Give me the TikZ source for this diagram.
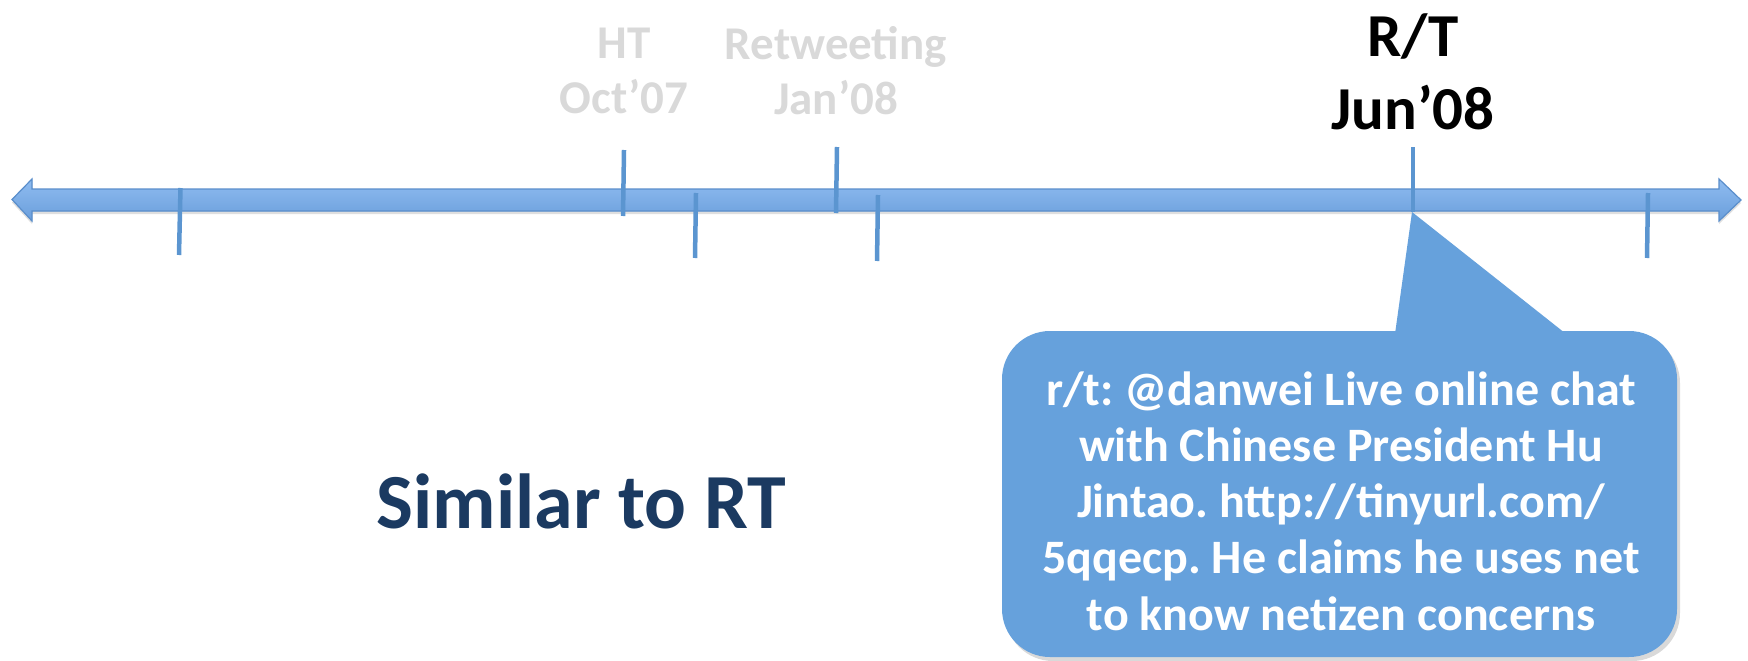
\documentclass[tikz,border=0pt]{standalone}
\usepackage{fontspec}
\setmainfont{Carlito}
\usetikzlibrary{shadows}
\frenchspacing
\definecolor{arrowtop}{HTML}{8FBCF0}
\definecolor{arrowbot}{HTML}{6A9EDB}
\definecolor{arrowline}{HTML}{5A8ECB}
\definecolor{tickblue}{HTML}{5B95D0}
\definecolor{callfill}{HTML}{66A1DC}
\definecolor{lightlabel}{HTML}{D9D9D9}
\definecolor{navy}{HTML}{1B3A61}
\begin{document}
\begin{tikzpicture}[x=1pt,y=-1pt,
  tickmark/.style={draw=tickblue,line width=4.5pt},
  oldlabel/.style={text=lightlabel,font=\bfseries\fontsize{47}{55}\selectfont,align=center,inner sep=0pt},
  nowlabel/.style={text=black,font=\bfseries\fontsize{61}{73}\selectfont,align=center,inner sep=0pt},
  calltext/.style={text=white,font=\bfseries\fontsize{48}{56.3}\selectfont,align=center,inner sep=0pt},
  bigtitle/.style={text=navy,font=\bfseries\fontsize{78}{90}\selectfont,inner sep=0pt}]
\useasboundingbox (0,0) rectangle (1748,661);
% timeline arrow
\path[fill=arrowbot,draw=arrowline,line width=1.2pt,top color=arrowtop,bottom color=arrowbot,
  drop shadow={opacity=0.25,shadow xshift=0pt,shadow yshift=-3pt}]
  (12,199.5) -- (32,179) -- (32,189) -- (1719,189) -- (1719,179) -- (1741,200)
  -- (1719,221) -- (1719,211) -- (32,211) -- (32,221) -- cycle;
% ticks
\draw[tickmark] (180.5,188) -- (179,255);
\draw[tickmark] (624,150) -- (623,216);
\draw[tickmark] (696,193) -- (695,258);
\draw[tickmark] (837,147) -- (836,213);
\draw[tickmark] (878,195) -- (877,261);
\draw[tickmark] (1413,147) -- (1413,212);
\draw[tickmark] (1648,193) -- (1647,258);
% labels
\node[oldlabel] (ht) at (624,70.5) {HT\\Oct’07};
\node[oldlabel] (rtw) at (836,70.5) {Retweeting\\Jan’08};
\node[nowlabel] (rt) at (1413,72) {R/T\\Jun’08};
% callout
\fill[callfill,rounded corners=48pt,drop shadow={opacity=0.3,shadow xshift=3pt,shadow yshift=-4pt}]
  (1002,331) rectangle (1677,657);
\coordinate (tip) at (1412,212);
\fill[callfill] (tip) -- (1575,341) -- (1394,341) -- cycle;
\node[calltext] (tweet) at (1341,501) {r/t: @danwei Live online chat\\with Chinese President Hu\\Jintao. http://tinyurl.com/\\5qqecp. He claims he uses net\\to know netizen concerns};
% title
\node[bigtitle] (title) at (581.5,501) {Similar to RT};
\end{tikzpicture}
\end{document}
